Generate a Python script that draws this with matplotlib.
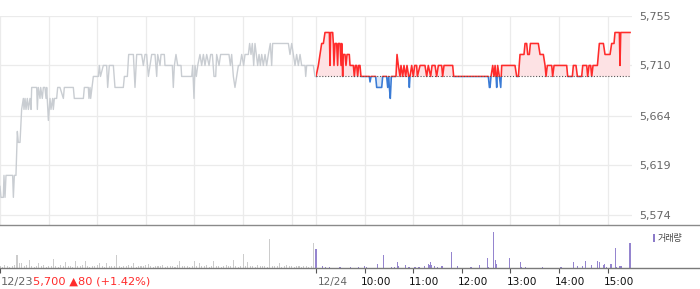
import numpy as np
import matplotlib
matplotlib.use("Agg")
import matplotlib.pyplot as plt
from matplotlib.patches import Rectangle
from matplotlib.lines import Line2D

# previous day (12/23), minutes since 09:00 and price
DAY1_T = [0, 1.2, 4.1, 4.9, 6.2, 7.4, 15.6, 16.5, 17.7, 19.7, 21.4, 22.6, 24.7, 26.7,
          28.8, 29.6, 30.9, 32.1, 33.7, 35, 37, 38.3, 39.1, 45.3, 46.1, 47.3, 49.4,
          50.2, 52.2, 53.5, 55.5, 56.8, 57.6, 59.7, 61.7, 62.9, 65, 65.8, 67.1, 69.9,
          71.2, 74, 78.2, 79.4, 90.5, 91.7, 102.9, 104.1, 109, 109.8, 111.1, 111.9,
          113.5, 115.2, 121.4, 122.6, 124, 127.5, 131.6, 132.9, 134.9, 139.9, 141.9,
          152.2, 153.5, 157.2, 158.8, 164.6, 166.6, 168.7, 174.8, 176.9, 179, 181,
          183.1, 185.1, 187.2, 191.3, 193.4, 194.6, 197.5, 198.7, 202.8, 203.6, 212.7,
          213.9, 215.2, 217.2, 219.3, 223.4, 224.2, 236.6, 237.8, 239.4, 240.7, 242.3,
          244, 246.8, 248.9, 251, 253, 255.1, 258, 260, 262.1, 264.1, 266.2, 267.4,
          270.3, 272.3, 282.6, 284.3, 285.9, 288, 290, 292.1, 294.2, 296.2, 298.3,
          300.7, 302.4, 306.5, 308.1, 309.8, 311.4, 313.1, 314.7, 316.4, 318, 319.7,
          321.3, 323, 325, 327.1, 329.1, 331.2, 333.6, 335.3, 336.5, 355.9, 357.9,
          360, 362, 364.1, 366.1, 368.2, 370.3, 372.3, 376.4, 377.3, 378.5, 386.7,
          388.8, 390]
DAY1_P = [5600, 5590, 5590, 5610, 5590, 5610, 5610, 5590, 5610, 5610, 5650, 5640, 5640, 5670,
          5680, 5670, 5680, 5670, 5680, 5670, 5680, 5670, 5690, 5690, 5670, 5690, 5680,
          5690, 5680, 5690, 5690, 5680, 5690, 5660, 5680, 5670, 5680, 5670, 5680, 5680,
          5690, 5690, 5680, 5690, 5690, 5680, 5680, 5690, 5690, 5680, 5690, 5680,
          5690, 5700, 5700, 5710, 5700, 5710, 5710, 5690, 5710, 5710, 5690,
          5690, 5700, 5700, 5720, 5720, 5690, 5720, 5720, 5710, 5720, 5720,
          5700, 5710, 5720, 5720, 5700, 5720, 5710, 5720, 5720, 5710, 5710,
          5690, 5710, 5720, 5710, 5710, 5700, 5700, 5710, 5680, 5710, 5700,
          5710, 5720, 5710, 5720, 5710, 5720, 5710, 5720, 5720, 5700, 5700, 5720,
          5710, 5720, 5720, 5710, 5720, 5700, 5690, 5700, 5710, 5710, 5720,
          5710, 5720, 5720, 5730, 5720, 5730, 5710, 5730, 5720, 5710, 5720,
          5710, 5720, 5710, 5720, 5710, 5720, 5730, 5710, 5730, 5730, 5720,
          5730, 5720, 5710, 5720, 5710, 5720, 5710, 5710, 5700, 5710, 5710,
          5700, 5700]

# current day (12/24), minutes since 09:00 and price
DAY2_T = [0, 2.9, 4.9, 7, 9.1, 11.1, 16.5, 17.3, 18.1, 20.6, 21.4, 22.2, 23.5, 25.5, 26.7,
          27.6, 29.6, 30.9, 31.7, 32.9, 33.7, 35.8, 37, 38.3, 41.1, 42, 46.1, 47.3, 48.6,
          50.2, 51.4, 52.7, 54.3, 55.5, 65.8, 66.7, 67.9, 73.6, 74.9, 81.1, 82.3, 87.2,
          88.5, 89.7, 90.5, 91.7, 93, 98.7, 100, 101.6, 103.7, 104.9, 107, 108.6, 110.7,
          112.3, 114.4, 115.2, 116, 118.1, 120.1, 121.8, 124.2, 125.1, 128.4, 134.5,
          136.6, 138.6, 141.5, 143.2, 146.9, 148.9, 151, 155.1, 156.3, 158, 168.7, 169.9,
          212.7, 214, 214.8, 216, 218.1, 219.7, 221, 222.2, 223, 224.2, 226.3, 228, 229.2,
          245.6, 247.7, 249.8, 251.8, 256.7, 258, 260, 261.3, 263.3, 264.6, 274.4, 276.5,
          280.6, 282.7, 283.9, 285.5, 290.9, 292.1, 293.8, 309.4, 310.6, 316.4, 317.6,
          320.9, 322.6, 327.9, 329.2, 334.1, 335.3, 337, 339, 340.3, 341.9, 347.3, 349.7,
          354.7, 356.7, 362.9, 364.9, 367.8, 369, 374.4, 375.2, 376.1, 387.6]
DAY2_P = [5700, 5710, 5720, 5730, 5730, 5740, 5740, 5710, 5740, 5740, 5730, 5710, 5730, 5730, 5710,
          5730, 5730, 5710, 5730, 5700, 5720, 5720, 5710, 5720, 5720, 5710, 5710, 5700, 5710,
          5710, 5700, 5710, 5710, 5700, 5700, 5695, 5700, 5700, 5690, 5690, 5700, 5700,
          5690, 5700, 5690, 5680, 5700, 5700, 5720, 5710, 5700, 5710, 5700, 5710, 5700,
          5710, 5700, 5690, 5700, 5710, 5700, 5710, 5710, 5700, 5710, 5710,
          5700, 5710, 5700, 5710, 5710, 5700, 5710, 5710, 5700, 5710, 5710, 5700,
          5700, 5690, 5690, 5700, 5710, 5700, 5710, 5700, 5690, 5710, 5700, 5690, 5710,
          5710, 5700, 5700, 5720, 5720, 5730, 5730, 5720, 5720, 5730, 5730, 5720,
          5720, 5710, 5700, 5710, 5710, 5700, 5710, 5710, 5700, 5700, 5710,
          5710, 5700, 5700, 5710, 5710, 5700, 5710, 5710, 5700, 5710, 5710, 5730,
          5730, 5720, 5720, 5730, 5730, 5740, 5740, 5710, 5740, 5740]

PREV_CLOSE = 5700
PRICE_TICKS = [5574, 5619, 5664, 5710, 5755]

# volume, 12/23 sampled every 3 minutes
DAY1_VOL = [2.5, 1.5, 3, 2, 1.5, 2.5, 3, 13.3, 5.7, 5.7,
            2, 3, 8.3, 2.5, 1.5, 2, 5, 2, 3, 1.5,
            2, 2.5, 9.3, 2, 1.5, 3, 2, 6.7, 2.5, 2,
            1.5, 7.3, 2, 2.5, 3, 7.3, 2, 1.5, 2, 2.5,
            3, 5, 2, 1.5, 5, 2, 2.5, 2, 13.3, 2,
            1.5, 2.5, 2, 3, 2, 5, 1.5, 2, 2.5, 2,
            3, 4, 2, 1.5, 2.5, 2, 2, 3, 1.5, 2,
            2.5, 2, 1.5, 3, 7.3, 2, 2.5, 2, 1.5, 2,
            7.3, 2, 5, 2.5, 2, 3, 1.5, 2, 7.3, 2,
            2.5, 1.5, 2, 3, 2, 2.5, 8.3, 2, 1.5, 2.5,
            14, 2, 6.7, 2, 2.5, 1.5, 3, 2, 2, 2.5,
            1.5, 29.3, 2, 2.5, 2, 5, 1.5, 2, 3, 2,
            2.5, 1.5, 2, 2, 1.5, 2.5, 2, 1.5, 2, 25.7]
DAY2_VOL_T = [0, 8.3, 12.3, 16.4, 28.8, 30.5, 42.8, 52.7, 59.6, 62.6, 75.7, 83.1, 93.4, 96.6,
              100.3, 102.1, 110.2, 114.8, 122.2, 127.1, 134.2, 138.6, 139.8, 141.1, 142.3,
              146.5, 150.2, 155.5, 167.5, 174.9, 190.1, 192.2, 201.5, 211.4, 213.1, 218.8,
              221.3, 222.5, 238.6, 252.1, 254.2, 258.8, 279.3, 302, 303.2, 317.6, 323,
              328.7, 332.9, 340.3, 347.7, 350.2, 354.6, 355.9, 358, 364.1, 369.4, 370.3,
              375.2, 376.4, 387.5]
DAY2_VOL = [19.3, 2.3, 1.7, 1.3, 1.3, 1.3, 1.3, 1.3, 2.3, 1.3, 4.3, 13.3, 1, 1,
            6.3, 2.3, 3.3, 1.3, 1.3, 1.3, 2.3, 4.3, 3.3, 6.3, 3,
            2.3, 1.3, 2.3, 16.3, 2.3, 1.3, 1.3, 3.3, 10.3, 1.3, 36.7,
            8.3, 4.3, 10.3, 6.3, 1.3, 1.3, 1.3, 1.3, 1.3, 6.3, 2.3,
            2.3, 7.3, 3.3, 7.3, 6.3, 3.3, 4.3, 1.3, 4.3, 20.3, 1.3,
            2.3, 2.3, 25.3]

DAY_LEN = 390
HOUR_LABELS = ["10:00", "11:00", "12:00", "13:00", "14:00", "15:00"]

RED = "#ff2b2b"
BLUE = "#3a7bd5"
GRAY = "#c9cdd2"
PURPLE = "#8c7bc9"

plt.rcParams["font.family"] = ["DejaVu Sans", "Noto Sans CJK KR"]

W, H = 700, 289
fig = plt.figure(figsize=(W / 100, H / 100), dpi=100)


def fy(py):
    return 1 - py / H


ax = fig.add_axes([0, fy(225.5), 632 / W, (225.5 - 15.5) / H])
axv = fig.add_axes([0, fy(268.3), 632 / W, (268.3 - 225.5) / H])

x1 = np.array(DAY1_T)
p1 = np.array(DAY1_P)
x2 = DAY_LEN + np.array(DAY2_T)
p2 = np.array(DAY2_P, dtype=float)

# price panel
ax.plot(x1, p1, color=GRAY, lw=1.0, zorder=3)
ax.fill_between(x2, p2, PREV_CLOSE, where=p2 >= PREV_CLOSE, interpolate=True,
                color="#fde2e4", lw=0, zorder=2)
ax.fill_between(x2, p2, PREV_CLOSE, where=p2 <= PREV_CLOSE, interpolate=True,
                color="#dde8f8", lw=0, zorder=2)
up, = ax.plot(x2, p2, color=RED, lw=1.15, zorder=4)
down, = ax.plot(x2, p2, color=BLUE, lw=1.15, zorder=4)
up.set_clip_path(Rectangle((DAY_LEN, PREV_CLOSE - 0.8), 400, 200, transform=ax.transData))
down.set_clip_path(Rectangle((DAY_LEN, PREV_CLOSE - 200.8), 400, 200, transform=ax.transData))
ax.hlines(PREV_CLOSE, DAY_LEN, 2 * DAY_LEN - 2, colors="#555555", lw=0.8,
          linestyles=(0, (1, 1.6)), zorder=5)

ax.set_xlim(0, 2 * DAY_LEN)
ax.set_ylim(5564.4, 5755.45)
grid_x = list(range(0, DAY_LEN, 60)) + [DAY_LEN + m for m in range(0, DAY_LEN, 60)]
ax.set_xticks(grid_x)
ax.tick_params(axis="x", length=0, labelbottom=False)
ax.yaxis.tick_right()
ax.set_yticks(PRICE_TICKS, labels=[f"{v:,}" for v in PRICE_TICKS])
ax.tick_params(axis="y", length=0, pad=5, labelsize=8, labelcolor="#666666")
ax.grid(True, color="#ebebeb", lw=0.9)
ax.set_axisbelow(True)
for s in ax.spines.values():
    s.set_visible(False)

# volume panel
axv.bar(np.arange(len(DAY1_VOL)) * 3, DAY1_VOL, width=1.3, color="#cccccc", lw=0,
        antialiased=False)
axv.bar(DAY_LEN + np.array(DAY2_VOL_T), DAY2_VOL, width=1.3, color="#9585cf", lw=0,
        antialiased=False)
axv.set_xlim(0, 2 * DAY_LEN)
axv.set_ylim(0, 42.8)
axv.set_yticks([])
axv.set_xticks([0, DAY_LEN] + [DAY_LEN + 60 * (i + 1) for i in range(6)])
axv.tick_params(axis="x", direction="out", length=3.5, width=0.8, color="#555555",
                labelbottom=False)
for s in axv.spines.values():
    s.set_visible(False)
axv.patch.set_alpha(0)

# separator and bottom lines across full width
fig.add_artist(Line2D([0, 1], [fy(225.4)] * 2, transform=fig.transFigure,
                      color="#8a8a8a", lw=1.0))
fig.add_artist(Line2D([0, 1], [fy(268.3)] * 2, transform=fig.transFigure,
                      color="#7a7a7a", lw=1.0))

# x labels
ty = fy(282)
t0 = fig.text(0.001, ty, "12/23", color="#666666", fontsize=8.2, va="center")
axv.annotate("5,700 \u25b280 (+1.42%)", xy=(1, 0.5), xycoords=t0, color=RED,
             fontsize=8.2, va="center", ha="left", annotation_clip=False)
axv.annotate("12/24", xy=(DAY_LEN, 0), xycoords=("data", "axes fraction"),
             xytext=(2, -14), textcoords="offset pixels", color="#666666",
             fontsize=7.6, va="center", ha="left", annotation_clip=False)
for i, lab in enumerate(HOUR_LABELS):
    axv.annotate(lab, xy=(DAY_LEN + 60 * (i + 1), 0), xycoords=("data", "axes fraction"),
                 xytext=(-4, -14), textcoords="offset pixels", color="#111111",
                 fontsize=7.6, va="center", ha="left", annotation_clip=False)

# volume legend
fig.add_artist(Rectangle((652.7 / W, fy(242)), 2.6 / W, 8 / H, transform=fig.transFigure,
                         color=PURPLE, lw=0))
fig.text(657.5 / W, fy(238.5), "거래량", color="#444444", fontsize=6.5, va="center",
         family=["Noto Sans CJK KR", "DejaVu Sans"])

fig.savefig("out.png", dpi=100, facecolor="white")
